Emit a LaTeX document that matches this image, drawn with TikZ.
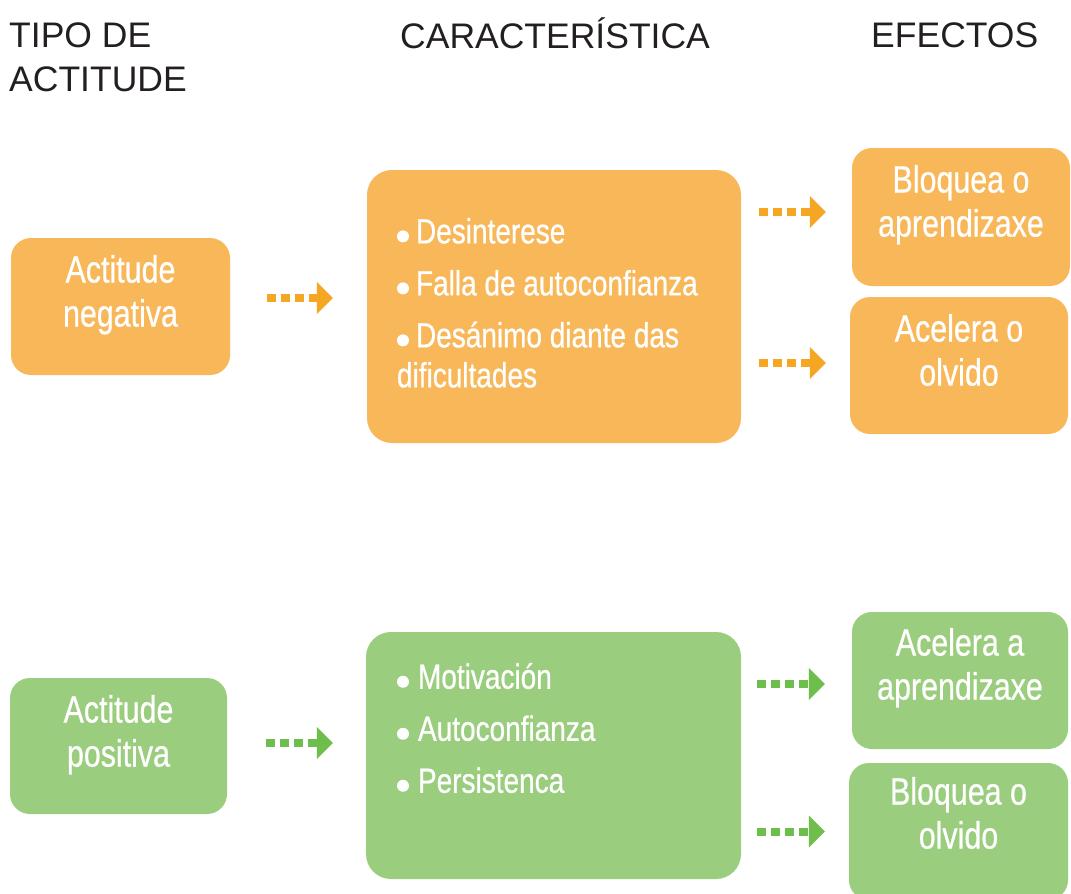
\documentclass[tikz,border=0pt]{standalone}
\usepackage{fontspec}
\setmainfont{Liberation Sans}
\newfontfamily\condfont[FakeStretch=0.8,FakeBold=0.6]{Liberation Sans}
\usetikzlibrary{positioning,arrows.meta}
\definecolor{orangebox}{HTML}{F8B85A}
\definecolor{orangearrow}{HTML}{F5A623}
\definecolor{greenbox}{HTML}{9BCD7E}
\definecolor{greenarrow}{HTML}{6DBE4B}
\definecolor{titlegray}{HTML}{231F20}
\tikzset{
    box/.style={fill=#1, rounded corners=20pt, inner sep=0pt},
    flecha/.style={draw=#1, line width=8pt, dash pattern=on 9pt off 5pt, -{Triangle[length=16pt,width=32pt,line width=0pt]}},
}
\newcommand{\blt}[1][7pt]{\tikz[baseline=0pt]\fill[white] (6pt,7pt) circle (6pt);\hspace{#1}}

\begin{document}
\begin{tikzpicture}[x=1pt, y=-1pt,
  title/.style={text=titlegray, inner sep=0pt, font=\fontsize{35.5}{44}\selectfont},
  boxtext/.style={text=white, inner sep=0pt, align=center, font=\condfont\fontsize{38}{44}\selectfont},
  listtext/.style={text=white, inner sep=0pt, align=left, font=\condfont\fontsize{35}{40}\selectfont}]
  \useasboundingbox[fill=white] (0,0) rectangle (1071,894);

  % TITULOS
  \node[title, anchor=north west, align=left] (tipo) at (9,22.6) {TIPO DE\\ACTITUDE};
  \node[title, anchor=base west] (carac) at (400,48) {CARACTERÍSTICA};
  \node[title, anchor=base west] (efectos) at (871,47) {EFECTOS};

  % ACTITUDE NEGATIVA
  \node[box=orangebox, minimum width=219pt, minimum height=137pt] (neg) at (120.5,306.5) {};
  \node[boxtext, below=17pt of neg.north] (negtxt) {Actitude\\negativa};

  \node[box=orangebox, rounded corners=25pt, minimum width=374pt, minimum height=273pt] (negcar) at (554,306.5) {};
  \node[listtext, below right=48pt and 30pt of negcar.north west] (negcartxt)
    {\blt Desinterese\\[12pt]
     \blt Falla de autoconfianza\\[12pt]
     \blt Desánimo diante das\\
     dificultades};

  \node[box=orangebox, minimum width=218pt, minimum height=138pt] (bloqap) at (961,217) {};
  \node[boxtext, below=17pt of bloqap.north] (bloqaptxt) {Bloquea o\\aprendizaxe};
  \node[box=orangebox, minimum width=218pt, minimum height=137pt] (acelol) at (959,365.5) {};
  \node[boxtext, below=17pt of acelol.north] (acelotxt) {Acelera o\\olvido};

  % ACTITUDE POSITIVA
  \node[box=greenbox, minimum width=217pt, minimum height=136pt] (pos) at (118.5,746) {};
  \node[boxtext, below=17pt of pos.north] (postxt) {Actitude\\positiva};

  \node[box=greenbox, rounded corners=25pt, minimum width=375pt, minimum height=247pt] (poscar) at (553.5,755.5) {};
  \node[listtext, below right=31pt and 31pt of poscar.north west] (poscartxt)
    {\blt[9pt]Motivación\\[12pt]
     \blt[9pt]Autoconfianza\\[12pt]
     \blt[9pt]Persistenca};

  \node[box=greenbox, minimum width=216pt, minimum height=137pt] (acelap) at (960,680.5) {};
  \node[boxtext, below=16pt of acelap.north] (acelaptxt) {Acelera a\\aprendizaxe};
  \node[box=greenbox, minimum width=219pt, minimum height=137pt] (bloqol) at (958.5,831.5) {};
  \node[boxtext, below=14pt of bloqol.north] (bloqoltxt) {Bloquea o\\olvido};

  % FRECHAS
  \draw[flecha=orangearrow, shorten <=37pt, shorten >=34pt] ([yshift=8.5pt]neg.east) -- ([yshift=8.5pt]neg.east -| negcar.west);
  \draw[flecha=orangearrow, shorten <=18pt, shorten >=26pt] ([yshift=5pt]bloqap.west -| negcar.east) -- ([yshift=5pt]bloqap.west);
  \draw[flecha=orangearrow, shorten <=18pt, shorten >=24pt] ([yshift=2.5pt]acelol.west -| negcar.east) -- ([yshift=2.5pt]acelol.west);
  \draw[flecha=greenarrow, shorten <=39pt, shorten >=33pt] ([yshift=3pt]pos.east) -- ([yshift=3pt]pos.east -| poscar.west);
  \draw[flecha=greenarrow, shorten <=16pt, shorten >=27pt] ([yshift=-3.5pt]acelap.west -| poscar.east) -- ([yshift=-3.5pt]acelap.west);
  \draw[flecha=greenarrow, shorten <=16pt, shorten >=24pt] (bloqol.west -| poscar.east) -- (bloqol.west);
\end{tikzpicture}
\end{document}
